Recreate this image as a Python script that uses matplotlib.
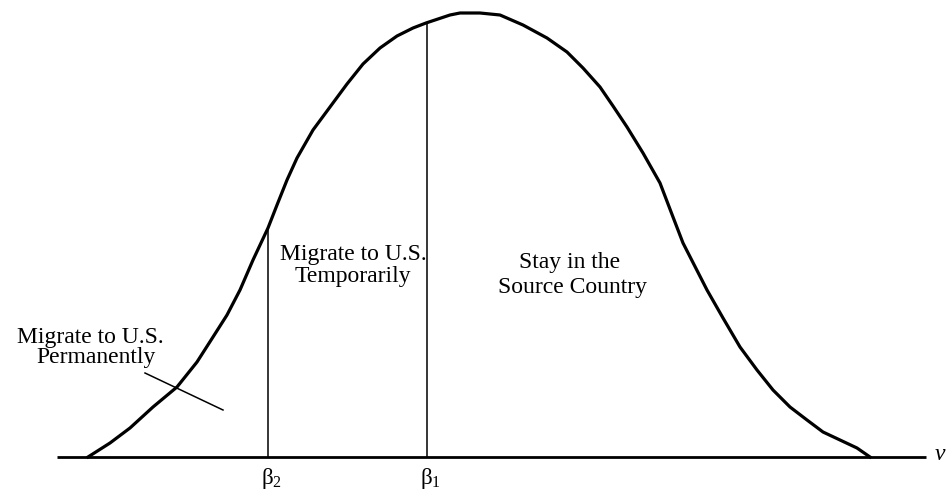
import numpy as np
import matplotlib
matplotlib.use("Agg")
from matplotlib import pyplot as plt
import matplotlib as mpl

mpl.rcParams['font.family'] = ['Liberation Serif', 'DejaVu Serif']
mpl.rcParams['mathtext.fontset'] = 'custom'
mpl.rcParams['mathtext.rm'] = 'Liberation Serif'
mpl.rcParams['mathtext.it'] = 'Liberation Serif:italic'

# density of nu
nu = [0.31, 0.53, 0.73, 0.96, 1.20, 1.40, 1.56, 1.70, 1.83, 1.96,
      2.11, 2.20, 2.30, 2.40, 2.56, 2.73, 2.90, 3.06, 3.23, 3.40,
      3.56, 3.69, 3.93, 4.03, 4.23, 4.43, 4.66, 4.90, 5.10, 5.26,
      5.43, 5.56, 5.70, 5.86, 6.03, 6.16, 6.26, 6.50, 6.66, 6.83,
      7.00, 7.16, 7.33, 7.50, 7.66, 7.83, 8.00, 8.13]
dens = [0.00, 0.14, 0.29, 0.50, 0.70, 0.95, 1.20, 1.42, 1.67, 1.97,
        2.29, 2.52, 2.77, 2.99, 3.27, 3.50, 3.73, 3.93, 4.09, 4.21,
        4.29, 4.34, 4.42, 4.44, 4.44, 4.42, 4.32, 4.19, 4.05, 3.89,
        3.70, 3.51, 3.30, 3.04, 2.74, 2.40, 2.14, 1.67, 1.39, 1.10,
        0.87, 0.67, 0.50, 0.37, 0.25, 0.17, 0.09, 0.00]

# cutoffs
beta_pos = [2.11, 3.70]
beta_labels = [r'$\mathrm{\beta_2}$', r'$\mathrm{\beta_1}$']

# region labels: one entry per text line (x, y, text)
region_lines = [
    (0.33, 1.14, 'Migrate to U.S.'),
    (0.39, 0.94, 'Permanently'),
    (2.96, 1.97, 'Migrate to U.S.'),
    (2.96, 1.75, 'Temporarily'),
    (5.13, 1.89, 'Stay in the'),
    (5.15, 1.64, 'Source Country'),
]
pointer = ([0.88, 1.66], [0.84, 0.47])

fig = plt.figure(figsize=(9.48, 5.0), dpi=100)
ax = fig.add_axes([0, 0, 1, 1])
ax.set_xlim(-0.57, 8.91)
ax.set_ylim(-0.43, 4.57)
ax.axis('off')

# horizontal axis
ax.plot([0.0, 8.69], [0, 0], color='black', lw=2.0, solid_capstyle='butt')
ax.text(8.83, 0.02, r'$\nu$', fontsize=17, ha='center', va='center')

# density curve
ax.plot(nu, dens, color='black', lw=2.3, solid_joinstyle='round')

# cutoff lines
for b, lab in zip(beta_pos, beta_labels):
    top = np.interp(b, nu, dens)
    ax.plot([b, b], [0, top], color='black', lw=1.1)
    ax.text(b + 0.03, -0.09, lab, fontsize=16.5, ha='center', va='top')

for x, y, s in region_lines:
    ax.text(x, y, s, fontsize=17, ha='center', va='baseline')

ax.plot(pointer[0], pointer[1], color='black', lw=1.1)

fig.savefig('out.png', dpi=100)
